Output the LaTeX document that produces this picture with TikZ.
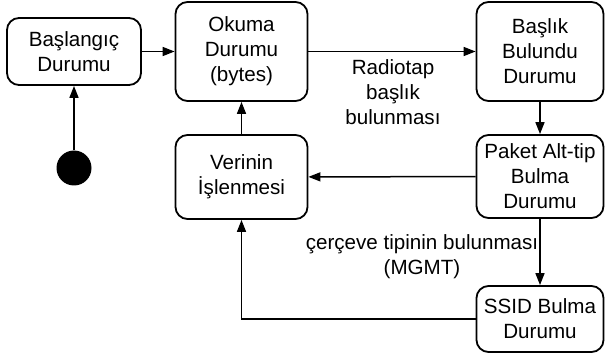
\documentclass[tikz,border=0pt]{standalone}
\usepackage{fontspec}
\setmainfont{Liberation Sans}
\usetikzlibrary{arrows.meta}
\begin{document}
\begin{tikzpicture}[x=1pt,y=-1pt,
  statebox/.style={draw,line width=1.8pt,rounded corners=12pt,align=center,
    inner sep=0pt,font=\fontsize{20.6}{25}\selectfont},
  lbl/.style={align=center,inner sep=0pt,font=\fontsize{20.6}{25}\selectfont},
  conn/.style={line width=1.5pt,-{Triangle[length=12pt,width=9pt]}}]
\useasboundingbox (0,0) rectangle (605,358);
\node[statebox,minimum width=134pt,minimum height=67pt] (bas) at (74,51.5) {Başlangıç\\Durumu};
\node[statebox,minimum width=132pt,minimum height=99pt] (oku) at (241.5,51.5) {Okuma\\Durumu\\(bytes)};
\node[statebox,minimum width=127pt,minimum height=99pt] (bsl) at (540,51.5) {Başlık\\Bulundu\\Durumu};
\node[statebox,minimum width=127pt,minimum height=83pt] (pak) at (540,176.5) {Paket Alt-tip\\Bulma\\Durumu};
\node[statebox,minimum width=127pt,minimum height=66pt] (ssid) at (540,319) {SSID Bulma\\Durumu};
\node[statebox,minimum width=132pt,minimum height=84pt] (ver) at (241.5,177) {Verinin\\İşlenmesi};
\node[circle,fill=black,minimum size=35pt,inner sep=0pt] (start) at (74,168) {};
\node[lbl] (l1) at (393,92) {Radiotap\\başlık\\bulunması};
\node[lbl] (l2) at (422,257) {çerçeve tipinin bulunması\\(MGMT)};
\draw[conn] (start) -- (bas);
\draw[conn] (bas) -- (oku);
\draw[conn] (oku) -- (bsl);
\draw[conn] (bsl) -- (pak);
\draw[conn] (pak) -- (ssid);
\draw[conn] (pak) -- (ver);
\draw[conn] (ver) -- (oku);
\draw[conn] (ssid.west) -| (ver.south);
\end{tikzpicture}
\end{document}
